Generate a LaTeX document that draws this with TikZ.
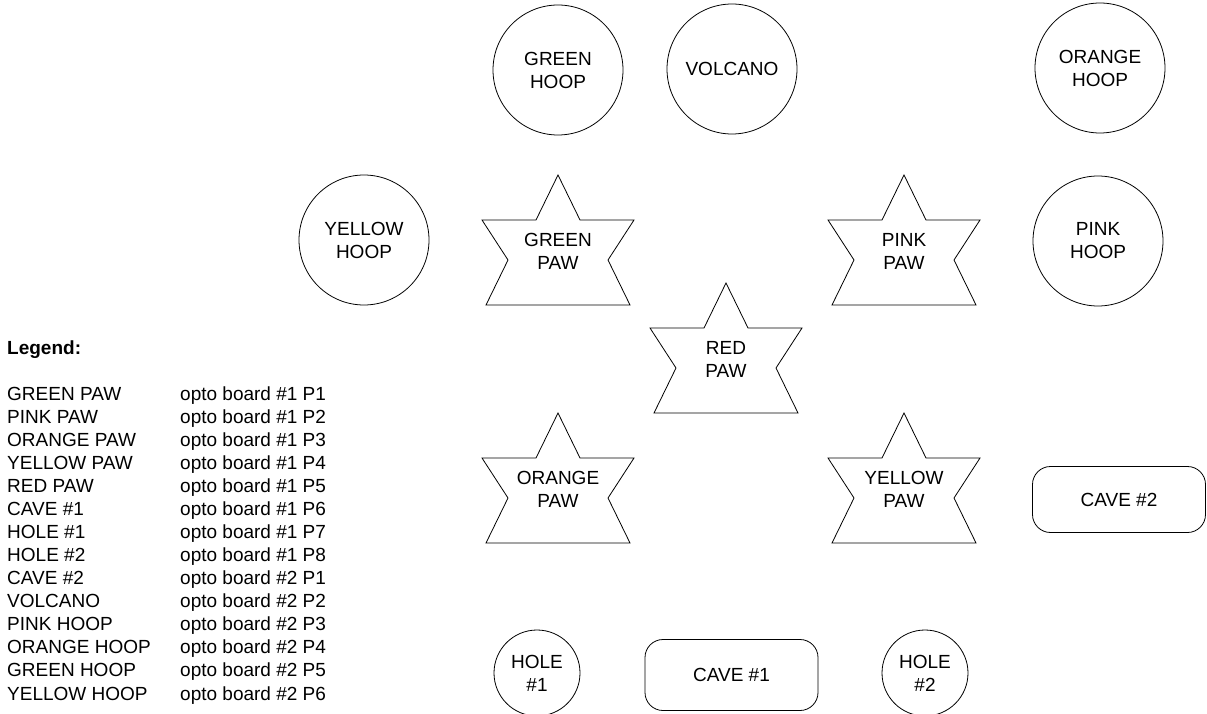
\documentclass[tikz,border=0pt]{standalone}
\usepackage{fontspec}
\setmainfont{Liberation Sans}
\tikzset{
  shapeline/.style={draw=black, line width=0.8pt, line join=miter},
  lbl/.style={font=\fontsize{19}{23}\selectfont, align=center, inner sep=0pt},
  hoop/.style={shapeline, circle, minimum size=130pt, inner sep=0pt, lbl},
  hole/.style={shapeline, circle, minimum size=86pt, inner sep=0pt, lbl},
  cave/.style={shapeline, rectangle, rounded corners=18pt, minimum width=173pt, minimum height=66pt, inner sep=0pt, lbl},
  legtxt/.style={font=\fontsize{19}{23}\selectfont, anchor=base west, inner sep=0pt},
}
\newcommand\pawstar[4]{%
  \draw[shapeline] (#2,#3) -- ++(22,45) -- ++(54,0) -- ++(-26,40) -- ++(22,45)
    -- ++(-144,0) -- ++(22,-45) -- ++(-26,-40) -- ++(54,0) -- cycle;
  \node[lbl] (#1) at (#2,#3+76) {#4};
}
\begin{document}
\begin{tikzpicture}[x=1pt,y=-1pt]
\useasboundingbox (0,0) rectangle (1207,714);

% hoops and volcano
\node[hoop] (greenhoop) at (558,70) {GREEN\\HOOP};
\node[hoop] (volcano) at (732,69) {VOLCANO};
\node[hoop] (orangehoop) at (1100,68) {ORANGE\\HOOP};
\node[hoop] (yellowhoop) at (364,240) {YELLOW\\HOOP};
\node[hoop] (pinkhoop) at (1098,241) {PINK\\HOOP};

% paws
\pawstar{greenpaw}{558}{175}{GREEN\\PAW}
\pawstar{pinkpaw}{904}{175}{PINK\\PAW}
\pawstar{redpaw}{726}{283}{RED\\PAW}
\pawstar{orangepaw}{558}{413}{ORANGE\\PAW}
\pawstar{yellowpaw}{904}{413}{YELLOW\\PAW}

% caves and holes
\node[cave] (cave2) at (1119,499.5) {CAVE \#2};
\node[cave, minimum height=71pt] (cave1) at (731.5,675) {CAVE \#1};
\node[hole] (hole1) at (537,673) {HOLE\\\#1};
\node[hole] (hole2) at (925,673) {HOLE\\\#2};

% legend
\node[legtxt, font=\fontsize{19}{23}\selectfont\bfseries] (legend) at (7,354) {Legend:};
\foreach \a/\b [count=\i from 0] in {
  GREEN PAW/opto board \#1 P1,
  PINK PAW/opto board \#1 P2,
  ORANGE PAW/opto board \#1 P3,
  YELLOW PAW/opto board \#1 P4,
  RED PAW/opto board \#1 P5,
  CAVE \#1/opto board \#1 P6,
  HOLE \#1/opto board \#1 P7,
  HOLE \#2/opto board \#1 P8,
  CAVE \#2/opto board \#2 P1,
  VOLCANO/opto board \#2 P2,
  PINK HOOP/opto board \#2 P3,
  ORANGE HOOP/opto board \#2 P4,
  GREEN HOOP/opto board \#2 P5,
  YELLOW HOOP/opto board \#2 P6}{
  \node[legtxt] (lname\i) at (7,400+23.08*\i) {\a};
  \node[legtxt] (lport\i) at (180,400+23.08*\i) {\b};
}
\end{tikzpicture}
\end{document}
